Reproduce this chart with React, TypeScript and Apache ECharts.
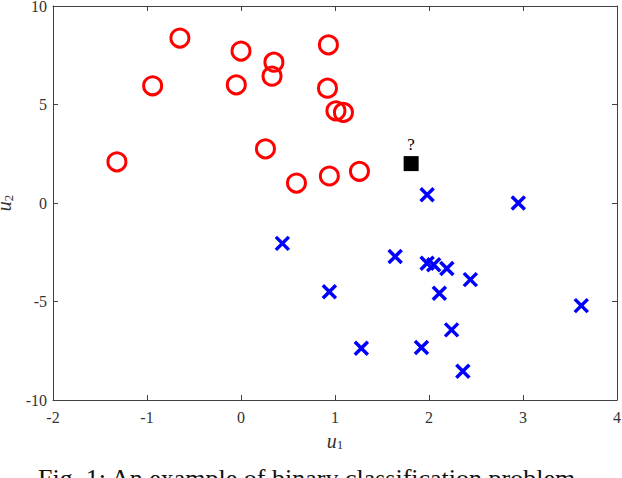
import React, { useEffect, useRef } from "react";
import * as echarts from "echarts";

const xTicks = [-2, -1, 0, 1, 2, 3, 4];
const yTicks = [-10, -5, 0, 5, 10];

const classA: number[][] = [
  [-1.32, 2.09], [-0.94, 5.95], [-0.65, 8.37], [0.0, 7.71], [-0.05, 6.0],
  [0.35, 7.15], [0.33, 6.44], [0.26, 2.75], [0.59, 1.01], [0.93, 8.03],
  [0.92, 5.83], [1.01, 4.68], [1.09, 4.6], [0.94, 1.37], [1.26, 1.61],
];

const classB: number[][] = [
  [1.98, 0.42], [2.95, 0.0], [0.44, -2.05], [1.64, -2.72], [1.98, -3.06],
  [2.05, -3.14], [2.19, -3.33], [2.44, -3.89], [0.94, -4.5], [2.11, -4.58],
  [3.62, -5.21], [2.24, -6.44], [1.28, -7.37], [1.92, -7.34], [2.36, -8.54],
];

const queryPoint: number[][] = [[1.81, 2.0]];
const queryLabel = "?";
const caption = "Fig. 1: An example of binary classification problem.";

const FONT = "'Liberation Serif', 'Times New Roman', serif";
const AXIS_COLOR = "#404040";

export default function App() {
  const ref = useRef<HTMLDivElement>(null);
  useEffect(() => {
    if (!ref.current) return;
    const chart = echarts.init(ref.current, null, { renderer: "svg" });
    const axisCommon = {
      type: "value" as const,
      axisLine: { show: true, onZero: false, lineStyle: { color: AXIS_COLOR, width: 1 } },
      axisTick: { show: true, inside: true, length: 5, lineStyle: { color: AXIS_COLOR } },
      splitLine: { show: false },
    };
    const nameRich = {
      i: { fontFamily: FONT, fontStyle: "italic", fontSize: 20, color: "#333" },
      s: { fontFamily: FONT, fontSize: 13, color: "#333", verticalAlign: "bottom", padding: [8, 0, 0, 0] },
    };
    chart.setOption({
      animation: false,
      backgroundColor: "#ffffff",
      grid: { left: 53, top: 6, right: 5, bottom: 78, containLabel: false, outerBoundsMode: "none" },
      xAxis: [
        {
          ...axisCommon,
          position: "bottom",
          min: xTicks[0],
          max: xTicks[xTicks.length - 1],
          interval: 1,
          axisLabel: { color: "#333", fontFamily: FONT, fontSize: 16, margin: 9, hideOverlap: false },
          name: "{i|u}{s|1}",
          nameLocation: "middle",
          nameGap: 30,
          nameTextStyle: { rich: nameRich },
        },
        {
          ...axisCommon,
          position: "top",
          min: xTicks[0],
          max: xTicks[xTicks.length - 1],
          interval: 1,
          axisLabel: { show: false },
        },
      ],
      yAxis: [
        {
          ...axisCommon,
          position: "left",
          min: yTicks[0],
          max: yTicks[yTicks.length - 1],
          interval: 5,
          axisLabel: { color: "#333", fontFamily: FONT, fontSize: 16, margin: 6 },
          name: "{i|u}{s|2}",
          nameLocation: "middle",
          nameGap: 34,
          nameRotate: 90,
          nameTextStyle: { rich: nameRich },
        },
        {
          ...axisCommon,
          position: "right",
          min: yTicks[0],
          max: yTicks[yTicks.length - 1],
          interval: 5,
          axisLabel: { show: false },
        },
      ],
      series: [
        {
          type: "scatter",
          data: classA,
          symbol: "circle",
          symbolSize: 18,
          itemStyle: { color: "rgba(0,0,0,0)", borderColor: "#ff0000", borderWidth: 3, opacity: 1 },
        },
        {
          type: "scatter",
          data: classB,
          symbol: "path://M0,0L10,10M0,10L10,0",
          symbolSize: 13,
          itemStyle: { color: "rgba(0,0,0,0)", borderColor: "#0000ff", borderWidth: 3.5, opacity: 1 },
        },
        {
          type: "scatter",
          data: queryPoint,
          symbol: "rect",
          symbolSize: 15,
          itemStyle: { color: "#000000", opacity: 1 },
          label: {
            show: true,
            position: "top",
            distance: 3,
            formatter: () => queryLabel,
            fontFamily: FONT,
            fontSize: 17,
            color: "#000",
          },
        },
      ],
      graphic: [
        {
          type: "text",
          left: 38,
          top: 465,
          style: { text: caption, font: `26px ${FONT}`, fill: "#111" },
        },
      ],
    });
    return () => chart.dispose();
  }, []);
  return <div ref={ref} style={{ width: 622, height: 478, position: "absolute", left: 0, top: 0 }} />;
}
